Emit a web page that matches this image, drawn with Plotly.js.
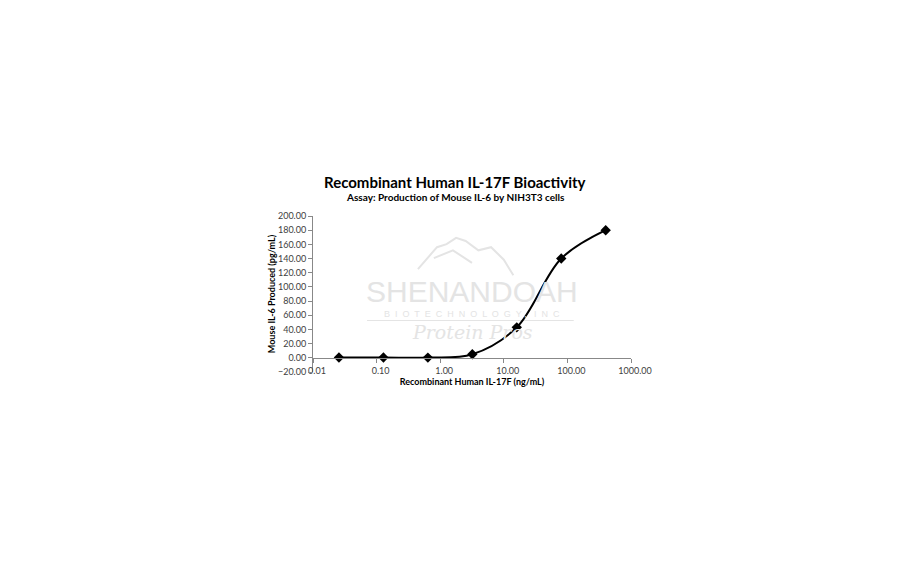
<!DOCTYPE html>
<html>
<head>
<meta charset="utf-8">
<script src="https://cdn.plot.ly/plotly-3.0.1.min.js"></script>
<style>
html,body{margin:0;padding:0;background:#fff;}
#chart{width:912px;height:562px;}
</style>
</head>
<body>
<div id="chart"></div>
<script>
// Data (5-fold dilution series)
var concentration = [0.0256, 0.128, 0.64, 3.2, 16, 80, 400];
var il6Produced = [0.5, 0.5, 0.3, 5, 43, 140, 180];

var xTickVals = [0.01, 0.1, 1, 10, 100, 1000];
var xTickText = ['0.01', '0.10', '1.00', '10.00', '100.00', '1000.00'];

var chartTitle = 'Recombinant Human IL-17F Bioactivity';
var chartSubtitle = 'Assay: Production of Mouse IL-6 by NIH3T3 cells';
var xTitle = 'Recombinant Human IL-17F (ng/mL)';
var yTitle = 'Mouse IL-6 Produced (pg/mL)';

var font = 'Lato, "Open Sans", "DejaVu Sans", sans-serif';
var wm = '#e4e4e4';

var trace = {
  x: concentration,
  y: il6Produced,
  type: 'scatter',
  mode: 'lines+markers',
  line: {color: '#000', width: 2, shape: 'spline', smoothing: 1},
  marker: {symbol: 'diamond', size: 8, color: '#000'},
  hoverinfo: 'x+y',
  showlegend: false
};

function ann(text, x, y, f) {
  return {text: text, xref: 'paper', yref: 'paper', x: x, y: y, xanchor: 'center', yanchor: 'middle', showarrow: false, font: f};
}

var layout = {
  width: 912,
  height: 562,
  paper_bgcolor: '#fff',
  plot_bgcolor: 'rgba(0,0,0,0)',
  margin: {l: 313, r: 281, t: 216, b: 190},
  font: {family: font, color: '#404040', size: 9},
  xaxis: {
    type: 'log',
    range: [-2, 3],
    tickvals: xTickVals,
    ticktext: xTickText,
    ticklabelshift: 4,
    anchor: 'free',
    position: 20 / 220,
    showgrid: false,
    zeroline: false,
    showline: true,
    linecolor: '#888',
    linewidth: 1,
    ticks: 'outside',
    ticklen: 4,
    tickcolor: '#888',
    tickfont: {size: 9, color: '#404040', family: font},
    title: {text: '<b>' + xTitle + '</b>', font: {size: 9, color: '#000', family: font}, standoff: 3}
  },
  yaxis: {
    range: [-20, 200],
    dtick: 20,
    tickformat: '.2f',
    showgrid: false,
    zeroline: false,
    showline: true,
    linecolor: '#888',
    linewidth: 1,
    ticks: 'outside',
    ticklen: 4,
    tickcolor: '#888',
    tickfont: {size: 9, color: '#404040', family: font},
    title: {text: '<b>' + yTitle + '</b>', font: {size: 9, color: '#000', family: font}, standoff: 0}
  },
  annotations: [
    ann('<b>' + chartTitle + '</b>', 0.448, 1.218, {size: 15, color: '#000', family: font}),
    ann('<b>' + chartSubtitle + '</b>', 0.448, 1.122, {size: 10, color: '#000', family: font}),
    // watermark
    ann('SHENANDOAH', 0.5, 0.515, {size: 30, color: wm, family: '"Liberation Sans", sans-serif'}),
    ann('B  I  O  T  E  C  H  N  O  L  O  G  Y ,   I  N  C', 0.5, 0.37, {size: 9, color: wm, family: '"Liberation Sans", sans-serif'}),
    ann('<i>Protein Pros</i>', 0.5, 0.255, {size: 19, color: wm, family: '"DejaVu Serif", serif'})
  ],
  shapes: [
    {type: 'path', xref: 'paper', yref: 'paper', layer: 'below',
     path: 'M 0.33 0.66 L 0.39 0.80 L 0.42 0.82 L 0.45 0.86 L 0.48 0.84 L 0.52 0.78 L 0.56 0.80 L 0.60 0.72 L 0.63 0.62 M 0.38 0.73 L 0.44 0.78 L 0.50 0.70',
     line: {color: wm, width: 2}},
    {type: 'line', xref: 'paper', yref: 'paper', layer: 'below', x0: 0.17, x1: 0.82, y0: 0.33, y1: 0.33, line: {color: wm, width: 1}}
  ]
};

Plotly.newPlot('chart', [trace], layout, {displayModeBar: false, staticPlot: true});
</script>
</body>
</html>
